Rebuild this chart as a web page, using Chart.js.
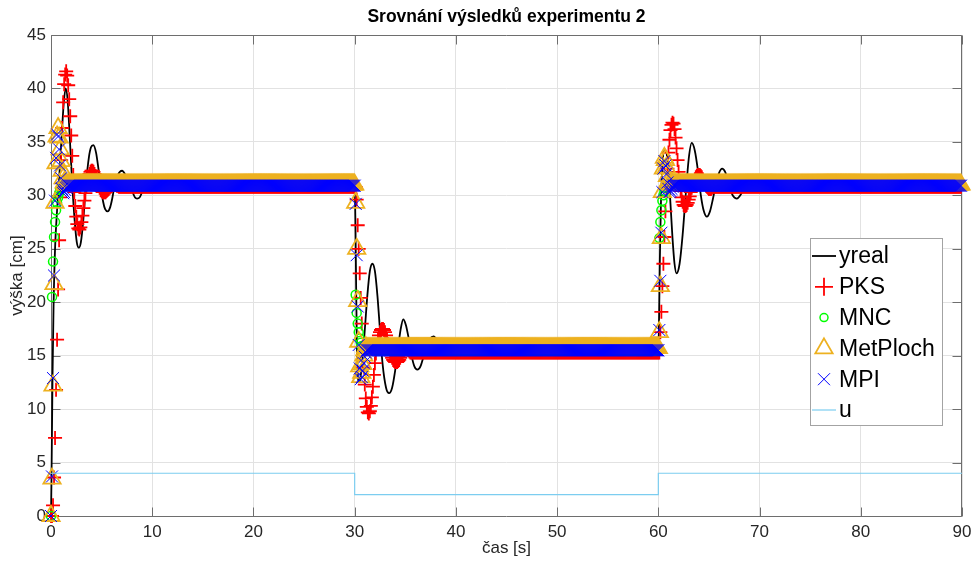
<!DOCTYPE html>
<html>
<head>
<meta charset="utf-8">
<title>Srovnání výsledků experimentu 2</title>
<script src="https://cdn.jsdelivr.net/npm/chart.js@4.4.1/dist/chart.umd.min.js"></script>
<style>
  html, body { margin: 0; padding: 0; background: #ffffff; }
  #wrap { width: 974px; height: 566px; }
</style>
</head>
<body>
<div id="wrap"><canvas id="chart" width="974" height="566"></canvas></div>
<script>
// ---- data ---------------------------------------------------------------

// sampling period of the model outputs [s] and the setpoint change instants
const Ts = 0.1;
const segmentStarts = [0, 30, 60];
const tEnd = 90;

// measured level yreal: time stamps [s] and values [cm]
const yrealT = [
  0, 0.05, 0.15, 0.25, 0.4, 0.6, 0.8, 1.05, 1.25, 1.45, 1.65, 1.85, 2.1, 2.35, 2.55, 2.75, 2.95, 3.2, 3.45,
  3.75, 3.95, 4.18, 4.45, 4.7, 4.9, 5.15, 5.35, 5.6, 5.85, 6.05, 6.3, 6.6, 6.8, 7.04, 7.3, 7.5, 7.8, 8.1,
  8.3, 8.5, 8.75, 8.95, 9.2, 9.6, 9.9, 10.3, 10.7, 11.1, 11.5, 12.3, 13.5,
  30, 30.08, 30.15, 30.22, 30.3, 30.4, 30.55, 30.75, 31.0, 31.25, 31.5, 31.75, 32.0, 32.25, 32.5, 32.75,
  33.1, 33.4, 33.7, 34.0, 34.3, 34.55, 34.8, 35.05, 35.3, 35.6, 35.9, 36.2, 36.5, 36.8, 37.1, 37.45, 37.8,
  38.1, 38.45, 38.8, 39.2, 39.6, 40.0, 40.5, 41.0, 41.6, 42.3, 43.2,
  60, 60.08, 60.15, 60.25, 60.4, 60.6, 60.8, 61.0, 61.2, 61.4, 61.6, 61.8, 62.1, 62.4, 62.7, 63.0, 63.3,
  63.6, 63.9, 64.2, 64.5, 64.8, 65.1, 65.4, 65.7, 66.0, 66.3, 66.6, 66.9, 67.2, 67.5, 67.75, 68.1, 68.5,
  68.9, 69.3, 69.7, 70.2, 70.7, 71.3, 72.5, 90
];
const yrealY = [
  0, 3.6, 13.0, 19.5, 25.0, 28.6, 31.5, 35.5, 38.5, 40.0, 38.8, 35.5, 31.0, 27.5, 25.6, 25.1, 25.6, 27.8, 31.0,
  33.6, 34.5, 34.7, 34.0, 32.4, 31.0, 29.4, 28.7, 28.5, 28.9, 29.7, 31.0, 31.9, 32.2, 32.3, 32.0, 31.7, 31.0, 30.2,
  29.8, 29.7, 29.8, 30.2, 31.0, 31.5, 31.6, 31.3, 30.7, 30.5, 30.7, 31.0, 31.0,
  31.0, 27.0, 21.0, 16.0, 13.3, 12.5, 12.8, 14.5, 17.4, 20.6, 22.9, 23.6, 22.9, 20.6, 17.4, 14.3,
  12.0, 11.5, 12.0, 13.6, 15.8, 17.5, 18.4, 17.9, 16.8, 15.1, 14.0, 13.7, 14.0, 14.9, 15.9, 16.6, 16.8,
  16.5, 15.8, 15.2, 15.0, 15.1, 15.5, 15.9, 16.0, 15.7, 15.4, 15.5,
  15.5, 19.0, 24.0, 29.0, 32.6, 34.2, 34.0, 32.2, 29.2, 26.0, 23.6, 22.7, 23.6, 26.3, 30.0, 33.4, 34.9,
  34.2, 32.4, 30.0, 28.5, 28.0, 28.5, 29.7, 31.1, 32.1, 32.5, 32.2, 31.3, 30.3, 29.8, 29.7, 30.0, 30.8,
  31.4, 31.5, 31.2, 30.7, 30.6, 30.9, 31.0, 31.0
];

// input u [cm] (drawn on the same axis)
const uT = [0, 30, 30, 60, 60, 90];
const uY = [4, 4, 2, 2, 4, 4];

// PKS model output: samples every Ts after each setpoint change, then its settled level
const pksT1 = [
  0, 0, 1.0, 3.6, 7.3, 11.8, 16.5, 21.2, 25.8, 29.8,
  33.3, 36.3, 38.7, 40.4, 41.3, 41.6, 41.2, 40.3, 39.0, 37.4,
  35.6, 33.7, 31.9, 30.3, 29.0, 28.0, 27.3, 26.9, 26.8, 27.0,
  27.5, 28.1, 28.8, 29.5, 30.2, 30.8, 31.3, 31.7, 32.0, 32.2,
  32.3, 32.3, 32.2, 32.0, 31.8, 31.5, 31.2, 30.9, 30.7, 30.5,
  30.4, 30.3, 30.3, 30.3, 30.3, 30.4, 30.5, 30.6, 30.7, 30.8,
  30.9, 31.0, 31.0, 31.0, 31.0, 30.9, 30.9, 30.8
];
const pksT2 = [
  30.8, 30.8, 29.6, 27.2, 25.0, 22.7, 20.4, 18.0, 15.8, 13.9,
  12.3, 11.0, 10.2, 9.7, 9.6, 9.8, 10.3, 11.1, 12.1, 13.2,
  14.3, 15.2, 15.9, 16.5, 16.9, 17.2, 17.4, 17.5, 17.5, 17.4,
  17.2, 16.9, 16.5, 16.1, 15.7, 15.3, 15.0, 14.8, 14.6, 14.5,
  14.4, 14.4, 14.4, 14.5, 14.6, 14.8, 15.0, 15.2, 15.4, 15.5,
  15.6, 15.6, 15.6, 15.5, 15.4, 15.3
];
const pksT3 = [
  15.3, 15.3, 17.2, 19.1, 21.5, 23.6, 26.1, 28.5, 30.6, 32.5,
  34.0, 35.2, 36.1, 36.6, 36.8, 36.7, 36.2, 35.4, 34.4, 33.3,
  32.2, 31.2, 30.4, 29.8, 29.4, 29.1, 29.0, 29.0, 29.1, 29.3,
  29.6, 29.9, 30.3, 30.7, 31.0, 31.3, 31.5, 31.7, 31.8, 31.9,
  31.9, 31.9, 31.8, 31.7, 31.5, 31.3, 31.1, 30.9, 30.8, 30.7,
  30.6, 30.6, 30.6, 30.7, 30.8
];
const pksLevels = [30.8, 15.3, 30.8];

// MNC model output
const mncT1 = [0, 20.5, 23.8, 26.1, 27.5, 28.6, 29.3, 29.8, 30.2, 30.5, 30.7];
const mncT2 = [30.9, 20.7, 19.0, 18.0, 17.2, 16.6, 16.2, 15.9, 15.7, 15.6];
const mncT3 = [15.5, 26.0, 27.5, 28.6, 29.5, 30.0, 30.4, 30.7];
const mncLevels = [30.9, 15.5, 30.9];

// MetPloch model output
const mpT1 = [0, 3.5, 12.2, 21.7, 29.3, 33.0, 35.5, 36.3, 35.4, 34.3, 33.2, 32.3, 31.6, 31.2];
const mpT2 = [31.0, 29.3, 25.0, 20.1, 16.3, 14.0, 13.0, 13.4, 14.2, 15.0, 15.5, 15.8];
const mpT3 = [15.7, 17.2, 21.5, 26.0, 30.3, 32.5, 33.5, 33.3, 32.6, 31.8, 31.3, 31.1];
const mpLevels = [31.0, 15.7, 31.0];

// MPI model output
const mpiT1 = [0, 3.7, 12.9, 22.5, 29.5, 33.5, 35.7, 35.5, 34.3, 32.8, 31.6, 30.6, 30.2, 30.3, 30.5, 30.7, 30.8];
const mpiT2 = [30.9, 29.2, 24.4, 19.6, 16.0, 13.8, 12.8, 13.0, 13.6, 14.3, 14.9, 15.3, 15.5];
const mpiT3 = [15.5, 17.4, 22.0, 26.5, 30.3, 32.5, 33.2, 32.8, 32.0, 31.2, 30.6, 30.3, 30.4, 30.6, 30.8];
const mpiLevels = [30.9, 15.5, 30.9];

// axis ticks
const xTicks = [0, 10, 20, 30, 40, 50, 60, 70, 80, 90];
const yTicks = [0, 5, 10, 15, 20, 25, 30, 35, 40, 45];

// ---- helpers ------------------------------------------------------------

function zipXY(xs, ys) {
  return xs.map((x, i) => ({ x: x, y: ys[i] }));
}

// A model output sampled every Ts: the listed transient samples after each
// setpoint change, then the output holds its settled level until the next change.
function sampledOutput(transients, levels) {
  const pts = [];
  segmentStarts.forEach((t0, s) => {
    const t1 = s + 1 < segmentStarts.length ? segmentStarts[s + 1] : tEnd + Ts / 2;
    const n = Math.round((t1 - t0) / Ts);
    for (let k = 0; k < n; k++) {
      const y = k < transients[s].length ? transients[s][k] : levels[s];
      pts.push({ x: Math.round((t0 + k * Ts) * 100) / 100, y: y });
    }
  });
  return pts;
}

const FONT = '"Liberation Sans", Arial, Helvetica, sans-serif';
const AXIS_COLOR = '#6e6e6e';
const TEXT_COLOR = '#262626';

// axes box with inward tick marks on all four sides
const boxAxes = {
  id: 'boxAxes',
  beforeDatasetsDraw(chart) {
    const { ctx, chartArea: a, scales } = chart;
    const len = 9;
    const L = Math.round(a.left) + 0.5, R = Math.round(a.right) - 0.5;
    const T = Math.round(a.top) + 0.5, B = Math.round(a.bottom) + 0.5;
    ctx.save();
    ctx.strokeStyle = AXIS_COLOR;
    ctx.lineWidth = 1;
    ctx.beginPath();
    ctx.rect(L, T, R - L, B - T);
    xTicks.forEach(v => {
      const px = Math.round(scales.x.getPixelForValue(v)) + 0.5;
      ctx.moveTo(px, B); ctx.lineTo(px, B - len);
      ctx.moveTo(px, T); ctx.lineTo(px, T + len);
    });
    yTicks.forEach(v => {
      const py = Math.round(scales.y.getPixelForValue(v)) + 0.5;
      ctx.moveTo(L, py); ctx.lineTo(L + len, py);
      ctx.moveTo(R, py); ctx.lineTo(R - len, py);
    });
    ctx.stroke();
    ctx.restore();
  }
};

// title centred over the plot area
const axesTitle = {
  id: 'axesTitle',
  afterDraw(chart) {
    const { ctx, chartArea: a } = chart;
    ctx.save();
    ctx.font = 'bold 17.5px ' + FONT;
    ctx.fillStyle = '#000000';
    ctx.textAlign = 'center';
    ctx.textBaseline = 'middle';
    ctx.fillText('Srovnání výsledků experimentu 2', (a.left + a.right) / 2, 17);
    ctx.restore();
  }
};

// boxed legend inside the plot area, right side
const boxLegend = {
  id: 'boxLegend',
  afterDatasetsDraw(chart) {
    const { ctx, chartArea: a } = chart;
    const w = 132, h = 187;
    const x0 = a.right - 152, y0 = a.top + 203;
    const rowH = 30.8;
    ctx.save();
    ctx.fillStyle = '#ffffff';
    ctx.fillRect(x0, y0, w, h);
    ctx.strokeStyle = '#a3a3a3';
    ctx.lineWidth = 1;
    ctx.strokeRect(x0 + 0.5, y0 + 0.5, w, h);
    chart.data.datasets.forEach((ds, i) => {
      const cy = y0 + 18 + i * rowH;
      const cx = x0 + 14;
      if (ds.showLine === false) {
        ctx.strokeStyle = ds.borderColor;
        ctx.fillStyle = 'rgba(0,0,0,0)';
        ctx.lineWidth = ds.pointBorderWidth;
        Chart.helpers.drawPoint(ctx, {
          pointStyle: ds.pointStyle,
          radius: ds.legendRadius,
          borderWidth: ds.pointBorderWidth,
          rotation: 0
        }, cx, cy);
      } else {
        ctx.strokeStyle = ds.borderColor;
        ctx.lineWidth = ds.borderWidth;
        ctx.beginPath();
        ctx.moveTo(x0 + 2, cy);
        ctx.lineTo(x0 + 26, cy);
        ctx.stroke();
      }
      ctx.fillStyle = '#000000';
      ctx.font = '23px ' + FONT;
      ctx.textAlign = 'left';
      ctx.textBaseline = 'middle';
      ctx.fillText(ds.label, x0 + 29, cy + 1);
    });
    ctx.restore();
  }
};

const markerBase = {
  showLine: false,
  clip: false,
  pointBackgroundColor: 'rgba(0,0,0,0)',
  pointHoverRadius: 0
};

new Chart(document.getElementById('chart'), {
  type: 'line',
  data: {
    datasets: [
      {
        label: 'yreal', data: zipXY(yrealT, yrealY),
        borderColor: '#000000', borderWidth: 1.8, pointRadius: 0,
        cubicInterpolationMode: 'monotone', clip: false, order: 6
      },
      Object.assign({
        label: 'PKS', data: sampledOutput([pksT1, pksT2, pksT3], pksLevels),
        borderColor: '#ff0000', pointBorderColor: '#ff0000',
        pointStyle: 'cross', pointRadius: 7, legendRadius: 9, pointBorderWidth: 1.8, order: 5
      }, markerBase),
      Object.assign({
        label: 'MNC', data: sampledOutput([mncT1, mncT2, mncT3], mncLevels),
        borderColor: '#00ff00', pointBorderColor: '#00ff00',
        pointStyle: 'circle', pointRadius: 4.5, legendRadius: 4, pointBorderWidth: 1.5, order: 4
      }, markerBase),
      Object.assign({
        label: 'MetPloch', data: sampledOutput([mpT1, mpT2, mpT3], mpLevels),
        borderColor: '#edb120', pointBorderColor: '#edb120',
        pointStyle: 'triangle', pointRadius: 10, legendRadius: 10, pointBorderWidth: 1.8, order: 3
      }, markerBase),
      Object.assign({
        label: 'MPI', data: sampledOutput([mpiT1, mpiT2, mpiT3], mpiLevels),
        borderColor: '#0000ff', pointBorderColor: '#0000ff',
        pointStyle: 'crossRot', pointRadius: 8.5, legendRadius: 8.5, pointBorderWidth: 1, order: 2
      }, markerBase),
      {
        label: 'u', data: zipXY(uT, uY),
        borderColor: '#7ccdf0', borderWidth: 1.2, pointRadius: 0, tension: 0, order: 1
      }
    ]
  },
  options: {
    responsive: false,
    devicePixelRatio: 1,
    animation: false,
    events: [],
    layout: { padding: { top: 35, right: 12, left: 0, bottom: 0 } },
    plugins: {
      legend: { display: false },
      tooltip: { enabled: false },
      title: { display: false }
    },
    scales: {
      x: {
        type: 'linear', min: 0, max: 90,
        afterBuildTicks(scale) { scale.ticks = xTicks.map(v => ({ value: v })); },
        afterFit(scale) {
          scale.height = 50;
          // end labels may overhang the plot; the outer padding already leaves room
          scale.paddingLeft = 0;
          scale.paddingRight = 0;
        },
        ticks: { color: TEXT_COLOR, padding: 6, font: { family: FONT, size: 17 } },
        grid: { color: '#e2e2e2', lineWidth: 1, drawTicks: false },
        border: { display: false },
        title: {
          display: true, text: 'čas [s]', color: TEXT_COLOR,
          font: { family: FONT, size: 17 }, padding: { top: 0, bottom: 7 }
        }
      },
      y: {
        type: 'linear', min: 0, max: 45,
        afterBuildTicks(scale) { scale.ticks = yTicks.map(v => ({ value: v })); },
        afterFit(scale) {
          scale.width = 51;
          scale.paddingTop = 0;
          scale.paddingBottom = 0;
        },
        ticks: { color: TEXT_COLOR, padding: 5, font: { family: FONT, size: 17 } },
        grid: { color: '#e2e2e2', lineWidth: 1, drawTicks: false },
        border: { display: false },
        title: {
          display: true, text: 'výška [cm]', color: TEXT_COLOR,
          font: { family: FONT, size: 17 }, padding: { top: 7, bottom: 0 }
        }
      }
    }
  },
  plugins: [boxAxes, boxLegend, axesTitle]
});
</script>
</body>
</html>
